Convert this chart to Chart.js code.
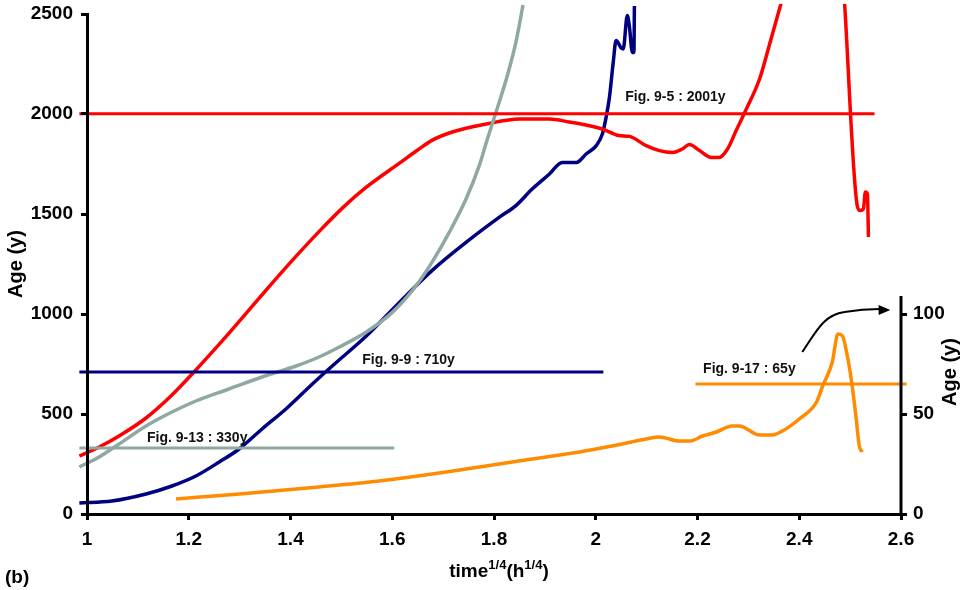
<!DOCTYPE html>
<html><head><meta charset="utf-8">
<script src="https://cdn.jsdelivr.net/npm/chart.js@4.4.0/dist/chart.umd.min.js"></script>
<style>html,body{margin:0;padding:0;background:#fff}#wrap{width:972px;height:590px;position:relative}</style>
</head><body><div id="wrap"><canvas id="c"></canvas></div>
<script>
// ---- axis setup ----
const xMin = 1, xMax = 2.6, xStep = 0.2;
const yMin = 0, yMax = 2500, yStep = 500;
const y2Min = 0, y2Max = 250, y2Step = 50, y2ShownMax = 100, y2AxisTop = 109;

// ---- Fig. 9-5 curve (red, left axis) ----
const redX = [0.985,1.024,1.063,1.116,1.167,1.214,1.26,1.289,1.338,1.4,1.456,1.505,1.549,1.614,1.65,1.678,1.718,1.785,1.85,1.909,1.948,1.981,2.013,2.046,2.066,2.099,2.125,2.151,2.17,2.184,2.204,2.227,2.243,2.259,2.276,2.296,2.322,2.341,2.365,2.42,2.489,2.514,2.52,2.526,2.53,2.534,2.536];
const redY = [290,335,390,480,595,720,849,933,1078,1258,1412,1537,1634,1754,1820,1868,1910,1950,1975,1975,1960,1945,1925,1892,1888,1842,1817,1808,1825,1847,1817,1783,1783,1825,1917,2025,2175,2342,2560,null,2560,1542,1517,1525,1610,1600,1385];

// ---- Fig. 9-9 curve (navy, left axis) ----
const navyX = [0.985,1.049,1.116,1.167,1.214,1.26,1.299,1.344,1.391,1.443,1.482,1.549,1.614,1.678,1.745,1.81,1.843,1.875,1.909,1.934,1.962,1.981,2.001,2.013,2.021,2.027,2.034,2.04,2.05,2.054,2.062,2.066,2.072,2.075,2.076];
const navyY = [55,65,100,140,190,260,325,425,525,650,740,890,1058,1217,1358,1483,1542,1625,1700,1758,1758,1800,1842,1900,1992,2085,2250,2367,2330,2325,2492,2440,2308,2308,2540];

// ---- Fig. 9-13 curve (grey, left axis) ----
const greyX = [0.985,1.024,1.063,1.116,1.167,1.214,1.279,1.344,1.411,1.456,1.496,1.549,1.6,1.647,1.678,1.712,1.745,1.771,1.787,1.806,1.826,1.843,1.857];
const greyY = [235,285,350,440,510,565,625,685,740,785,835,910,1008,1142,1258,1408,1575,1742,1875,2025,2190,2358,2545];

// ---- Fig. 9-17 curve (orange, right axis) ----
const orangeX = [1.175,1.3,1.456,1.574,1.706,1.836,1.968,2.032,2.099,2.125,2.164,2.185,2.21,2.237,2.268,2.282,2.322,2.347,2.367,2.4,2.434,2.446,2.465,2.476,2.485,2.493,2.503,2.512,2.518,2.524];
const orangeY = [7.5,10,13.5,16.5,21,26,31,34,37.5,38.5,36.5,36.5,39,41,44,44,39.5,39.5,41.5,47.5,56,64,76,90,89,81,66,47.5,34,31];

// ---- reference age lines ----
const refLabels = ['Fig. 9-5 : 2001y','Fig. 9-9 : 710y','Fig. 9-13 : 330y','Fig. 9-17 : 65y'];
const refValues = [2001,710,330,65];
const refStart = [0.985,0.985,0.985,2.196];
const refEnd = [2.548,2.015,1.604,2.611];
const refAxis = ['y','y','y','y2'];
const refLabelX = [2.058,1.541,1.118,2.211];
const refLabelY = [2065,750,360,70.5];

// ---- arrow annotation (x, right-axis value) ----
const arrowX = [2.406,2.436,2.449,2.489,2.558];
const arrowY = [81,92.5,99.5,101,102.5];
const arrowTip = [2.579,102];

const colors = {red:'#FF0000', navy:'#000080', grey:'#8FA8A2', orange:'#FF8C00'};
const FONT = '"Liberation Sans", Arial, Helvetica, sans-serif';
Chart.defaults.font.family = FONT;
Chart.defaults.color = '#000';

function pts(xs, ys){ return xs.map((x,i)=>({x:x, y:ys[i]})); }
const clip = {left:10, top:10, right:12, bottom:0};
function curve(label, xs, ys, col, axis){
  return {label, data:pts(xs,ys), borderColor:col, borderWidth:3.5, pointRadius:0,
    cubicInterpolationMode:'monotone', spanGaps:false, yAxisID:axis, clip};
}
function refLine(i, col){
  return {label:refLabels[i], data:[{x:refStart[i],y:refValues[i]},{x:refEnd[i],y:refValues[i]}],
    borderColor:col, borderWidth:3, pointRadius:0, yAxisID:refAxis[i], clip};
}
const refColors = [colors.red, colors.navy, colors.grey, colors.orange];

const extras = {
  id:'extras',
  afterDraw(chart){
    const ctx = chart.ctx, xs = chart.scales.x, y2 = chart.scales.y2;
    ctx.save();
    // partial right axis line
    ctx.strokeStyle = '#000'; ctx.lineWidth = 3;
    ctx.beginPath();
    ctx.moveTo(y2.left, y2.getPixelForValue(y2Min)+1.5);
    ctx.lineTo(y2.left, y2.getPixelForValue(y2AxisTop));
    ctx.stroke();
    // reference labels
    ctx.fillStyle = '#111';
    ctx.font = 'bold 14px ' + FONT;
    ctx.textBaseline = 'alphabetic'; ctx.textAlign = 'left';
    refLabels.forEach((t,i)=>{
      const sc = chart.scales[refAxis[i]];
      ctx.fillText(t, xs.getPixelForValue(refLabelX[i]), sc.getPixelForValue(refLabelY[i]));
    });
    // arrow
    const P = arrowX.map((x,i)=>[xs.getPixelForValue(x), y2.getPixelForValue(arrowY[i])]);
    ctx.strokeStyle = '#000'; ctx.lineWidth = 2;
    ctx.beginPath();
    ctx.moveTo(P[0][0],P[0][1]);
    ctx.bezierCurveTo(P[1][0],P[1][1],P[2][0],P[2][1],P[3][0],P[3][1]);
    ctx.quadraticCurveTo((P[3][0]+P[4][0])/2, P[4][1], P[4][0], P[4][1]);
    ctx.stroke();
    const tx = xs.getPixelForValue(arrowTip[0]), ty = y2.getPixelForValue(arrowTip[1]);
    ctx.fillStyle = '#000';
    ctx.beginPath();
    ctx.moveTo(tx,ty); ctx.lineTo(P[4][0]-1,ty-5); ctx.lineTo(P[4][0]-1,ty+5); ctx.closePath(); ctx.fill();
    // x axis title with superscripts
    const parts = [['time',19,0],['1/4',13,8],['(h',19,0],['1/4',13,8],[')',19,0]];
    let w = 0;
    parts.forEach(p=>{ ctx.font='bold '+p[1]+'px '+FONT; w += ctx.measureText(p[0]).width; });
    let cx = (chart.chartArea.left+chart.chartArea.right)/2 + 5 - w/2;
    const base = 577;
    parts.forEach(p=>{ ctx.font='bold '+p[1]+'px '+FONT; ctx.fillText(p[0], cx, base-p[2]); cx += ctx.measureText(p[0]).width; });
    // right axis title
    ctx.save();
    ctx.font = 'bold 20px ' + FONT;
    ctx.translate(950, y2.getPixelForValue(71));
    ctx.rotate(-Math.PI/2);
    ctx.textAlign = 'center'; ctx.textBaseline = 'middle';
    ctx.fillText('Age (y)', 0, 0);
    ctx.restore();
    // panel label
    ctx.font = 'bold 19px ' + FONT;
    ctx.textAlign = 'left';
    ctx.fillText('(b)', 5, 583);
    ctx.restore();
  }
};

const tickFont = {size:19, weight:'bold'};
const axisGrid = {drawOnChartArea:false, drawTicks:true, tickLength:6, lineWidth:3, color:'#000', z:1};
const axisBorder = {display:true, width:3, color:'#000', z:1};

new Chart(document.getElementById('c'), {
  type:'line',
  data:{datasets:[
    refLine(0, refColors[0]), refLine(1, refColors[1]), refLine(2, refColors[2]), refLine(3, refColors[3]),
    curve('Fig. 9-13', greyX, greyY, colors.grey, 'y'),
    curve('Fig. 9-17', orangeX, orangeY, colors.orange, 'y2'),
    curve('Fig. 9-5', redX, redY, colors.red, 'y'),
    curve('Fig. 9-9', navyX, navyY, colors.navy, 'y')
  ]},
  options:{
    responsive:true, maintainAspectRatio:false, animation:false,
    layout:{padding:{top:14, left:0, right:0, bottom:0}},
    plugins:{legend:{display:false}, tooltip:{enabled:false}},
    scales:{
      x:{type:'linear', min:xMin, max:xMax,
        ticks:{stepSize:xStep, font:tickFont, padding:8, maxRotation:0,
          callback:v=>String(Number(v.toFixed(1)))},
        grid:axisGrid, border:axisBorder,
        afterFit(s){ s.height = 76; s.paddingLeft = 0; s.paddingRight = 0; }},
      y:{type:'linear', position:'left', min:yMin, max:yMax,
        ticks:{stepSize:yStep, font:tickFont, padding:8, callback:v=>String(v)},
        grid:axisGrid, border:axisBorder,
        title:{display:true, text:'Age (y)', font:{size:20, weight:'bold'}, padding:{top:4,bottom:4}},
        afterFit(s){ s.width = 87; s.paddingTop = 0; s.paddingBottom = 0; }},
      y2:{type:'linear', position:'right', min:y2Min, max:y2Max,
        ticks:{stepSize:y2Step, font:tickFont, padding:6, callback:v=>String(v)},
        afterBuildTicks(s){ s.ticks = s.ticks.filter(t=>t.value<=y2ShownMax); },
        grid:axisGrid, border:{display:false},
        afterFit(s){ s.width = 71; s.paddingTop = 0; s.paddingBottom = 0; }}
    }
  },
  plugins:[extras]
});
</script></body></html>
